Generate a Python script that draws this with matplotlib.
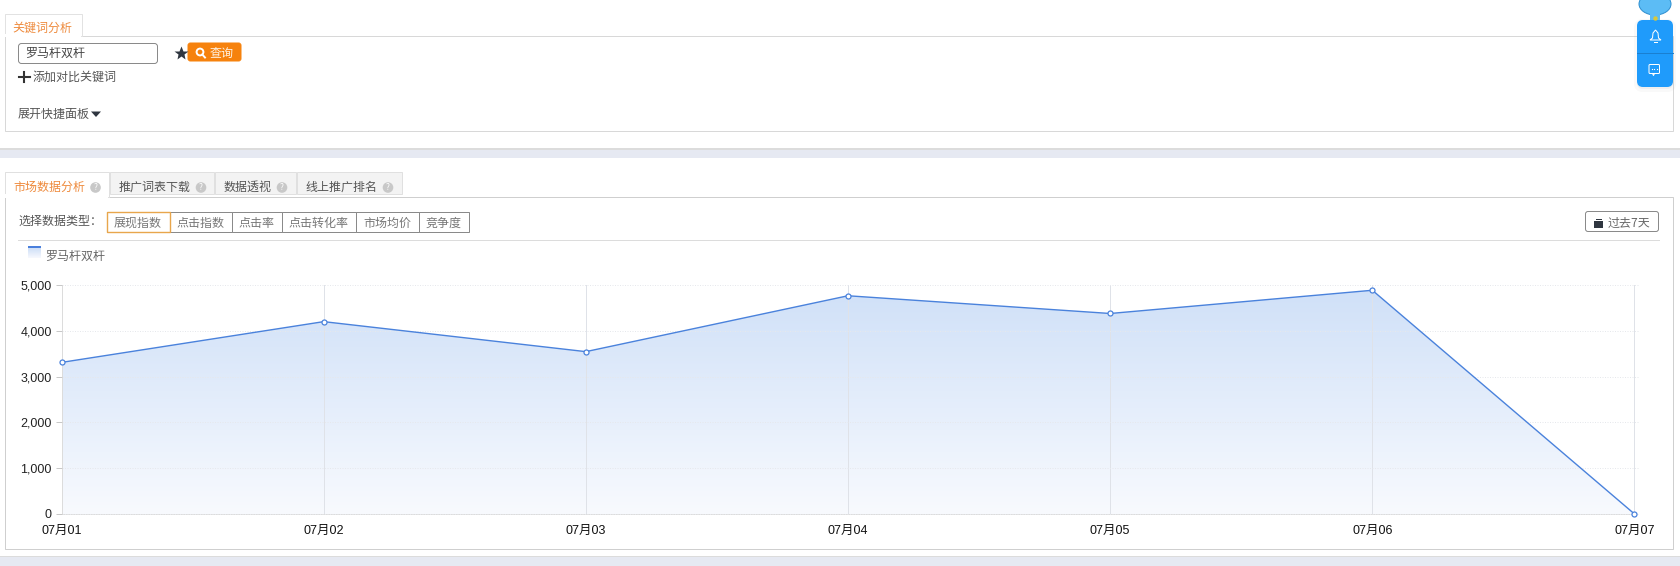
import numpy as np
import matplotlib
matplotlib.use("Agg")
import matplotlib.pyplot as plt
from matplotlib.patches import Rectangle, FancyBboxPatch, Polygon, Ellipse
from matplotlib.colors import LinearSegmentedColormap
from matplotlib.ticker import FuncFormatter

plt.rcParams['font.family'] = ['Noto Sans CJK SC', 'DejaVu Sans']

categories = ['07月01', '07月02', '07月03', '07月04', '07月05', '07月06', '07月07']
values = [3310, 4200, 3545, 4765, 4378, 4885, 0]
y_ticks = [0, 1000, 2000, 3000, 4000, 5000]
series_name = '罗马杆双杆'
data_types = ['展现指数', '点击指数', '点击率', '点击转化率', '市场均价', '竞争度']
type_edges = [106, 169, 231, 281, 355, 418, 468]
tab_names = ['市场数据分析', '推广词表下载', '数据透视', '线上推广排名']
tab_edges = [4, 109, 214, 296, 402]

W, H = 1680, 566
PX = 0.72
fig = plt.figure(figsize=(W / 100, H / 100), dpi=100, facecolor='white')
ui = fig.add_axes([0, 0, 1, 1], zorder=0)
ui.set_xlim(0, W)
ui.set_ylim(H, 0)
ui.axis('off')

BORDER = '#d8d8d8'
ORANGE = '#ee8a3c'
TXT = '#555555'
FS = 8.64


def rect(x0, y0, x1, y1, fc='none', ec='none', lw=PX, z=1):
    ui.add_patch(Rectangle((x0, y0), x1 - x0, y1 - y0, fc=fc, ec=ec, lw=lw, zorder=z))


def rrect(x0, y0, x1, y1, r=2.5, fc='white', ec='#8a8a8a', lw=PX, z=2):
    ui.add_patch(FancyBboxPatch((x0 + r, y0 + r), x1 - x0 - 2 * r, y1 - y0 - 2 * r,
                                boxstyle=f'round,pad={r},rounding_size={r}',
                                fc=fc, ec=ec, lw=lw, zorder=z))


def text(x, y, s, color=TXT, fs=FS, ha='left', z=5, **kw):
    ui.text(x, y, s, color=color, fontsize=fs, ha=ha, va='center', zorder=z, **kw)


# page bands
rect(0, 148, W, 158, fc='#e6e9f2')
rect(0, 148, W, 150, fc='#dcdcdc')
rect(0, 556, W, H, fc='#e6e9f2')
rect(0, 556, W, 557, fc='#dcdcdc')

# top panel
rect(4.5, 35.5, 1672.5, 130.5, fc='white', ec=BORDER)
rect(4.5, 13.5, 81.5, 36, fc='white', ec='#e2e2e2', z=2)
rect(5, 34, 81, 37, fc='white', z=3)
text(12.5, 28, '关键词分析', color=ORANGE)
rrect(18.5, 43.5, 157.5, 63.5, r=3)
text(25, 53.5, series_name, color='#444444')
ui.plot([181], [52.5], marker='*', ms=10, color='#2f3640', zorder=5, mec='none')
rrect(188, 43, 241, 61, r=2.5, fc='#f6820d', ec='#f6820d')
ui.add_patch(plt.Circle((200, 52), 3.4, fc='none', ec='white', lw=1.4, zorder=5))
ui.plot([202.3, 205], [54.5, 57.5], color='white', lw=1.4, zorder=5)
text(209.5, 53, '查询', color='#fff4e6')
ui.plot([19, 29.5], [77, 77], color='#333333', lw=1.5, zorder=5)
ui.plot([24.3, 24.3], [71.5, 82], color='#333333', lw=1.5, zorder=5)
text(33, 77.5, '添加对比关键词')
text(18, 114, '展开快捷面板')
ui.add_patch(Polygon([[91, 111.5], [101, 111.5], [96, 117]], fc='#2f3640', ec='none', zorder=5))

# bottom panel
rect(4.5, 196.5, 1672.5, 548.5, fc='white', ec='#cfcfcf')
for i, name in enumerate(tab_names):
    x0, x1 = tab_edges[i], tab_edges[i + 1]
    active = i == 0
    rect(x0 + .5, 171.5, x1 - .5, 197 if active else 194, fc='white' if active else '#f3f3f3',
         ec='#e0e0e0', z=2)
    if active:
        rect(x0 + 1, 194, x1 - 1, 198, fc='white', z=3)
    tx = x0 + 9 if active else x0 + 9.5
    text(tx, 187, name, color=ORANGE if active else TXT)
    w = len(name) * 12
    ui.add_patch(plt.Circle((tx + w + 10.5, 187.5), 5.3, fc='#c8c8c8', ec='none', zorder=5))
    text(tx + w + 10.5, 187.5, '?', color='white', fs=6, ha='center')

text(18, 221, '选择数据类型：')
for i, name in enumerate(data_types):
    x0, x1 = type_edges[i], type_edges[i + 1]
    rect(x0 + .5, 211.5, x1 + .5, 231.5, fc='white', ec='#8a8a8a', z=2)
    text((x0 + x1) / 2 + .5, 223, name, color='#777777', ha='center')
rect(106.5, 211.5, 169.5, 231.5, fc='none', ec='#e8a64c', lw=1.0, z=3)
rrect(1585.5, 211.5, 1658.5, 231.5, r=2.5, ec='#8a8a8a')
rect(1594, 221, 1603, 228, fc='#2f3640', z=5)
rect(1595.5, 219, 1601.5, 220, fc='#2f3640', z=5)
text(1608, 223, '过去7天', color='#666666')
ui.plot([18, 1659], [239.5, 239.5], color='#dcdcdc', lw=PX, zorder=2)

# legend swatch
grad = np.linspace(0, 1, 64).reshape(-1, 1)
swatch = LinearSegmentedColormap.from_list('sw', ['#cfdff7', '#f7f9fe'])
ui.imshow(grad, extent=(28, 41, 258, 248), cmap=swatch, aspect='auto', zorder=3)
rect(28, 246, 41, 248, fc='#4a7fdc', z=4)
ui.set_xlim(0, W)
ui.set_ylim(H, 0)
text(45, 256, series_name, color='#666666')

# floating widget
for pad, a in [(9, .06), (6, .10), (3, .14)]:
    ui.add_patch(FancyBboxPatch((1643, 28), 24, 55, boxstyle=f'round,pad={pad},rounding_size={pad}',
                                fc='#999999', ec='none', alpha=a, zorder=6))
rrect(1637, 20, 1673, 87, r=6, fc='#1f9bfb', ec='none', z=7)
ui.plot([1637, 1673], [53, 53], color='#1a7fd0', lw=PX, zorder=8)
ui.add_patch(Polygon([[1650, 40], [1652.5, 38], [1653, 33], [1655.5, 30], [1658, 33], [1658.5, 38], [1661, 40]],
                     fc='none', ec='white', lw=PX, zorder=8))
ui.plot([1654, 1657], [42, 42], color='white', lw=PX, zorder=8)
rrect(1649, 64.5, 1659.5, 73.5, r=1, fc='none', ec='white', z=8)
ui.plot([1652, 1654.3, 1656.6], [69, 69, 69], ls='none', marker='s', ms=.8, mec='none', color='white', zorder=9)
ui.plot([1652.5, 1653.5, 1654.5], [73.5, 75.5, 73.5], color='white', lw=PX, zorder=9)
ui.add_patch(Ellipse((1655, 4), 32, 22, fc='#5cbcf5', ec='#2f8fd0', lw=PX, zorder=6))
ui.add_patch(Rectangle((1650, 13), 10, 7, fc='#5cbcf5', ec='none', zorder=6))
ui.plot([1655], [18], marker='o', ms=3.2, color='#d8c83a', mec='none', zorder=8)

# chart
left, right, top, bottom = 61.5, 1634.5, 285.0, 514.0
ax = fig.add_axes([left / W, 1 - bottom / H, (right - left) / W, (bottom - top) / H], zorder=3)
ax.patch.set_alpha(0)
xs = np.arange(len(categories))
ax.set_xlim(xs[0], xs[-1])
ax.set_ylim(0, 5000)

cmap = LinearSegmentedColormap.from_list('fill', ['#f8fafe', '#cfe0f8'])
im = ax.imshow(np.linspace(1, 0, 256).reshape(-1, 1), extent=(xs[0], xs[-1], 0, 5000),
               cmap=cmap, aspect='auto', zorder=1)
clip = Polygon(np.column_stack([np.r_[xs, xs[-1], xs[0]], np.r_[values, 0, 0]]),
               transform=ax.transData, fc='none', ec='none')
ax.add_patch(clip)
im.set_clip_path(clip)

ax.set_axisbelow(False)
ax.set_yticks(y_ticks)
ax.set_xticks(xs, categories)
ax.yaxis.set_major_formatter(FuncFormatter(lambda v, _: f'{int(v):,}'))
ax.grid(axis='x', color='#dfe2e8', lw=PX, zorder=2)
ax.grid(axis='y', color='#e6e8ec', lw=PX, ls=(0, (1, 1.5)), zorder=2)
ax.get_xgridlines()[0].set_visible(False)
for g in ax.get_ygridlines():
    g.set_clip_on(False)
    g.set_xdata([0, 1.002])
ax.plot(xs, values, color='#4a82dc', lw=1.0, zorder=4, clip_on=False,
        marker='o', ms=3.6, mfc='white', mec='#4a82dc', mew=0.9)
for s in ['top', 'right']:
    ax.spines[s].set_visible(False)
for s in ['left', 'bottom']:
    ax.spines[s].set_color('#dcdcdc')
    ax.spines[s].set_linewidth(PX)
ax.tick_params(axis='y', length=4, width=PX, color='#c8c8c8', pad=3, labelsize=9, labelcolor='#222222')
ax.tick_params(axis='x', length=0, pad=8, labelsize=9, labelcolor='#111111')
fam = ['Liberation Sans', 'Noto Sans CJK SC']
for t in ax.get_xticklabels() + ax.get_yticklabels():
    t.set_family(fam)

fig.savefig('out.png', dpi=100, facecolor='white')
